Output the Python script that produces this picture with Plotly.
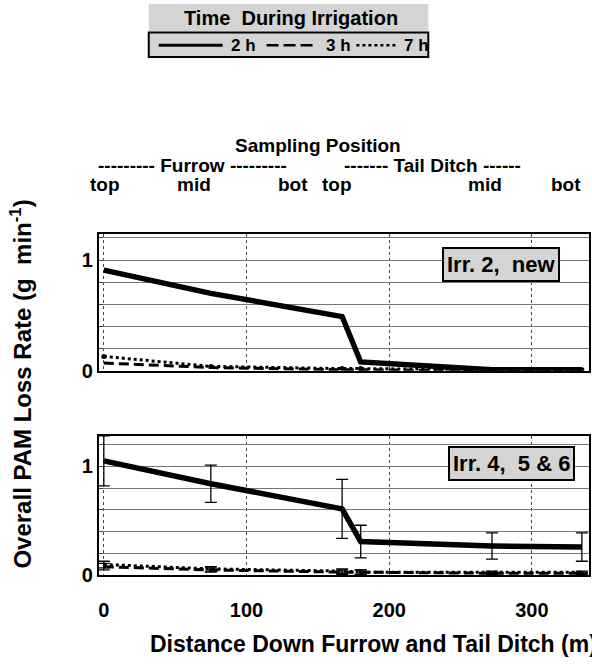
import plotly.graph_objects as go

# ---- data ----
dist = [0, 75, 167, 180, 272, 335]
p1_2h = [0.91, 0.70, 0.49, 0.08, 0.01, 0.01]
p1_3h = [0.07, 0.03, 0.01, 0.01, 0.00, 0.00]
p1_7h = [0.13, 0.04, 0.02, 0.02, 0.01, 0.01]

p2_2h = [1.05, 0.84, 0.61, 0.31, 0.27, 0.26]
p2_2h_err = [0.23, 0.17, 0.27, 0.15, 0.12, 0.13]
p2_3h = [0.08, 0.05, 0.03, 0.03, 0.02, 0.02]
p2_3h_err = [0.03, 0.02, 0.02, 0.02, 0.01, 0.01]
p2_7h = [0.10, 0.06, 0.04, 0.03, 0.03, 0.03]
p2_7h_err = [0.03, 0.02, 0.02, 0.02, 0.01, 0.01]

x_ticks = [0, 100, 200, 300]
y_ticks = [0, 0.2, 0.4, 0.6, 0.8, 1.0, 1.2]
y_labels = ["0", "", "", "", "", "1", ""]

W, H = 592, 672
FONT = "Liberation Sans, Arial, sans-serif"

def px(x):
    return x / W

def py(y):
    return 1 - y / H

fig = go.Figure()

styles = {
    "2h": dict(color="black", width=5.5, dash="solid"),
    "3h": dict(color="black", width=3, dash="10px,5px"),
    "7h": dict(color="black", width=3, dash="dot"),
}

# panel 1 (upper)
for ys, key in [(p1_3h, "3h"), (p1_7h, "7h"), (p1_2h, "2h")]:
    fig.add_trace(go.Scatter(x=dist, y=ys, mode="lines+markers" if key == "7h" else "lines",
                             line=styles[key], marker=dict(size=5, color="black"),
                             xaxis="x", yaxis="y", showlegend=False))
# panel 2 (lower)
for ys, err, key in [(p2_3h, p2_3h_err, "3h"), (p2_7h, p2_7h_err, "7h"), (p2_2h, p2_2h_err, "2h")]:
    fig.add_trace(go.Scatter(x=dist, y=ys, mode="lines", line=styles[key],
                             error_y=dict(type="data", array=err, visible=True,
                                          color="black", thickness=1.3, width=6),
                             xaxis="x2", yaxis="y2", showlegend=False))

axis_common = dict(showline=True, linecolor="black", linewidth=2, mirror=True,
                   zeroline=False)

x_dom = [px(98), px(589)]
fig.update_layout(
    width=W, height=H,
    margin=dict(l=0, r=0, t=0, b=0),
    paper_bgcolor="white", plot_bgcolor="white",
    font=dict(family=FONT, color="black"),
    xaxis=dict(domain=x_dom, range=[-3.5, 340], tickvals=x_ticks, showticklabels=False,
               showgrid=True, gridcolor="#444", griddash="dot", gridwidth=1,
               anchor="y", **axis_common),
    yaxis=dict(domain=[py(377), py(238)], range=[0, 1.235], tickvals=y_ticks,
               ticktext=[f"<b>{t}</b>" if t else "" for t in y_labels],
               tickfont=dict(size=20, family=FONT), ticks="inside", ticklen=4,
               showgrid=True, gridcolor="#777", gridwidth=1, anchor="x", **axis_common),
    xaxis2=dict(domain=x_dom, range=[-3.5, 340], tickvals=x_ticks,
                ticktext=[f"<b>{t}</b>" for t in x_ticks],
                tickfont=dict(size=20, family=FONT), ticks="", ticklabelstandoff=16,
                showgrid=True, gridcolor="#444", griddash="dot", gridwidth=1,
                anchor="y2", **axis_common),
    yaxis2=dict(domain=[py(585), py(443)], range=[0, 1.28], tickvals=y_ticks,
                ticktext=[f"<b>{t}</b>" if t else "" for t in y_labels],
                tickfont=dict(size=20, family=FONT), ticks="inside", ticklen=4,
                showgrid=True, gridcolor="#777", gridwidth=1, anchor="x2", **axis_common),
)

ann = []
def text(x, y, s, size=20, **kw):
    ann.append(dict(xref="paper", yref="paper", x=px(x), y=py(y), text=f"<b>{s}</b>",
                    showarrow=False, font=dict(size=size, family=FONT, color="black"),
                    xanchor=kw.pop("xanchor", "center"), yanchor=kw.pop("yanchor", "middle"), **kw))

# axis titles
text(147, 655, "Distance Down Furrow and Tail Ditch (m)", size=23, xanchor="left")
text(20, 390, "Overall PAM Loss Rate (g  min<sup>-1</sup>)", size=24, textangle=-90)

# sampling position header
text(318, 148, "Sampling Position", size=19)
text(192, 168, "--------- Furrow ---------", size=19)
text(432, 168, "------- Tail Ditch ------", size=19)
for xx, s in [(104, "top"), (193, "mid"), (292, "bot"), (337, "top"), (485, "mid"), (566, "bot")]:
    text(xx, 188, s, size=19)

# panel labels
ann.append(dict(xref="paper", yref="paper", x=px(501), y=py(269), text="<b>Irr. 2,  new</b>",
                xanchor="center", yanchor="middle",
                showarrow=False, font=dict(size=22, family=FONT, color="black"),
                bgcolor="#d4d4d4", bordercolor="black", borderwidth=2, borderpad=3))
ann.append(dict(xref="paper", yref="paper", x=px(511), y=py(471), text="<b>Irr. 4,  5 & 6</b>",
                xanchor="center", yanchor="middle",
                showarrow=False, font=dict(size=22, family=FONT, color="black"),
                bgcolor="#d4d4d4", bordercolor="black", borderwidth=2, borderpad=3))

# legend
shapes = []
shapes.append(dict(type="rect", xref="paper", yref="paper", x0=px(148), x1=px(428),
                   y0=py(32), y1=py(4), fillcolor="#d4d4d4", line=dict(width=0), layer="below"))
shapes.append(dict(type="rect", xref="paper", yref="paper", x0=px(148), x1=px(428),
                   y0=py(58), y1=py(33), fillcolor="#d4d4d4", line=dict(color="black", width=2), layer="below"))
text(290, 18, "Time  During Irrigation", size=20)
leg_y = 46
for (x0, x1, key, tx, lab) in [(158, 222, "2h", 243, "2 h"), (266, 316, "3h", 338, "3 h"), (356, 396, "7h", 416, "7 h")]:
    st = styles[key]
    shapes.append(dict(type="line", xref="paper", yref="paper", x0=px(x0), x1=px(x1),
                       y0=py(leg_y), y1=py(leg_y),
                       line=dict(color="black", width=3 if key == "2h" else 2.5,
                                 dash="12px,5px" if key == "3h" else st["dash"])))
    text(tx, leg_y, lab, size=17)

fig.update_layout(annotations=ann, shapes=shapes)
fig.write_html("out.html")
